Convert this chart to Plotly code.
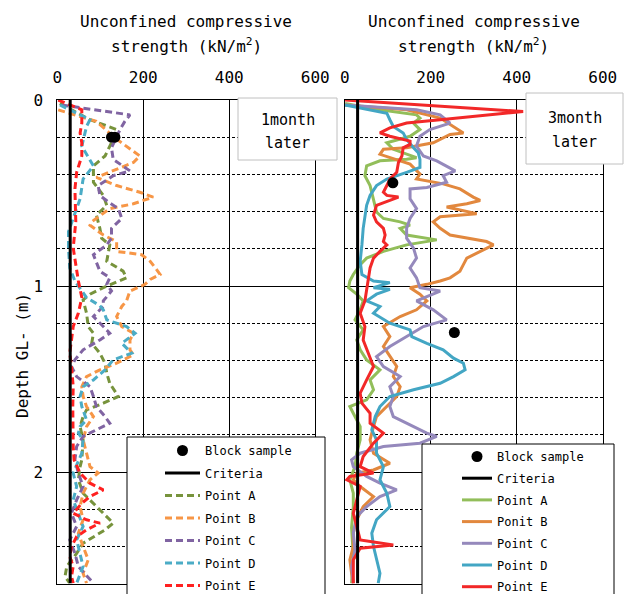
import plotly.graph_objects as go

# ---------------- data ----------------
# 1 month later (dashed)
depth_1m_A = [0.018,0.106,0.159,0.230,0.301,0.354,0.442,0.513,0.566,0.619,0.690,0.743,0.779,0.867,0.920,0.956,1.009,1.044,1.075,1.146,1.218,1.254,1.308,1.361,1.415,1.469,1.523,1.594,1.630,1.666,1.702,1.756,1.827,1.935,1.971,2.042,2.114,2.168,2.222,2.275,2.311,2.347,2.383,2.437,2.508,2.562,2.598]
ucs_1m_A = [6,76,138,126,111,84,84,107,115,91,99,103,122,115,153,161,107,76,60,68,72,84,80,99,111,115,122,142,107,68,60,53,60,57,53,49,60,84,107,130,111,84,60,45,22,18,29]

depth_1m_B = [0.053,0.088,0.115,0.204,0.301,0.336,0.372,0.416,0.460,0.496,0.522,0.558,0.584,0.655,0.673,0.726,0.761,0.814,0.832,0.867,0.912,0.938,0.965,0.991,1.027,1.080,1.110,1.164,1.218,1.254,1.290,1.343,1.370,1.415,1.451,1.487,1.541,1.594,1.648,1.702,1.756,1.827,1.899,1.971,2.006,2.042,2.114,2.186,2.257,2.329,2.401,2.472,2.544,2.598]
ucs_1m_B = [2,53,91,134,192,177,138,91,138,192,223,177,122,80,76,107,138,138,196,216,231,239,216,204,169,161,150,138,150,177,169,169,177,138,99,68,57,60,68,84,68,60,68,76,95,76,60,53,60,49,60,72,60,68]

depth_1m_C = [0.027,0.080,0.115,0.159,0.257,0.319,0.381,0.407,0.460,0.513,0.549,0.584,0.637,0.690,0.743,0.779,0.832,0.920,0.956,0.991,1.027,1.080,1.110,1.164,1.218,1.254,1.290,1.343,1.397,1.433,1.487,1.541,1.594,1.648,1.702,1.738,1.773,1.809,1.863,1.935,2.006,2.078,2.150,2.222,2.293,2.365,2.437,2.508,2.598]
ucs_1m_C = [10,169,157,146,126,130,169,130,95,99,119,142,150,126,126,115,84,99,122,115,126,107,107,84,107,122,99,60,41,33,45,76,84,91,111,122,91,60,45,41,49,60,45,33,45,29,41,49,84]

depth_1m_D = [0.027,0.106,0.142,0.248,0.354,0.425,0.531,0.637,0.708,0.796,0.903,0.973,1.062,1.106,1.128,1.182,1.218,1.254,1.308,1.361,1.397,1.451,1.505,1.541,1.594,1.648,1.720,1.756,1.791,1.827,1.899,2.006,2.078,2.150,2.222,2.293,2.365,2.437,2.508,2.598]
ucs_1m_D = [6,76,68,57,84,60,53,37,26,26,29,41,68,99,107,115,161,181,150,173,130,111,84,60,53,57,68,53,49,60,57,37,45,37,49,60,45,53,60,45]

depth_1m_E = [0.0,0.053,0.124,0.177,0.230,0.301,0.389,0.478,0.655,0.796,0.973,1.062,1.146,1.218,1.290,1.361,1.433,1.541,1.648,1.756,1.863,1.935,2.006,2.060,2.096,2.132,2.168,2.222,2.257,2.275,2.311,2.347,2.401,2.455,2.508,2.562,2.598]
ucs_1m_E = [2,57,57,53,57,57,45,41,43,37,49,57,49,37,33,29,33,37,36,36,37,39,53,76,107,76,57,37,68,99,68,45,33,29,37,33,37]

block_1m_depth = [0.2, 0.2]
block_1m_ucs = [126, 134]

# 3 months later (solid)
depth_3m_A = [0.018,0.053,0.080,0.097,0.124,0.159,0.195,0.230,0.265,0.310,0.319,0.327,0.354,0.407,0.460,0.531,0.602,0.637,0.655,0.673,0.690,0.726,0.743,0.752,0.779,0.814,0.850,0.885,0.938,0.973,1.009,1.044,1.080,1.128,1.182,1.236,1.290,1.343,1.397,1.451,1.505,1.558,1.612,1.648,1.684,1.756,1.827,1.899,1.971,2.042,2.114,2.186,2.300,2.450,2.598]
ucs_3m_A = [1,82,167,175,160,175,152,98,113,167,144,82,51,47,59,67,74,90,129,152,129,144,191,214,144,90,51,36,20,12,9,28,43,36,24,43,28,36,51,82,59,67,51,12,20,36,36,28,24,12,20,20,16,20,16]

depth_3m_B = [0.027,0.053,0.097,0.142,0.177,0.185,0.230,0.257,0.265,0.292,0.310,0.345,0.398,0.425,0.451,0.478,0.522,0.540,0.558,0.575,0.611,0.628,0.655,0.690,0.726,0.761,0.779,0.814,0.850,0.885,0.920,0.956,0.973,0.991,1.009,1.044,1.080,1.128,1.164,1.218,1.272,1.325,1.379,1.433,1.487,1.541,1.594,1.648,1.702,1.756,1.827,1.899,1.953,1.989,2.006,2.042,2.078,2.132,2.186,2.257,2.329,2.401,2.472,2.544,2.598]
ucs_3m_B = [1,144,222,253,276,245,206,144,90,82,105,152,175,167,229,268,299,315,284,237,307,222,206,222,245,330,346,315,284,276,268,245,222,191,152,175,191,167,129,90,105,90,105,121,113,129,121,98,74,67,59,67,105,67,28,20,36,67,43,28,20,20,12,16,20]

depth_3m_C = [0.027,0.053,0.080,0.124,0.159,0.195,0.248,0.301,0.327,0.354,0.381,0.407,0.442,0.470,0.478,0.531,0.584,0.637,0.690,0.743,0.796,0.850,0.903,0.956,1.009,1.027,1.080,1.128,1.182,1.218,1.272,1.325,1.379,1.433,1.487,1.541,1.594,1.648,1.702,1.738,1.791,1.809,1.845,1.863,1.899,1.935,1.971,2.024,2.060,2.096,2.132,2.186,2.240,2.329,2.419,2.508,2.598]
ucs_3m_C = [1,167,222,245,198,175,167,183,214,237,257,229,237,191,152,152,167,152,144,144,160,167,152,167,175,222,167,206,237,183,144,105,74,90,129,105,113,105,113,144,191,214,175,90,36,16,20,51,82,121,82,51,28,20,24,16,20]

depth_3m_D = [0.027,0.071,0.106,0.142,0.177,0.212,0.257,0.283,0.319,0.363,0.389,0.425,0.460,0.513,0.566,0.619,0.690,0.779,0.867,0.938,0.973,0.982,1.009,1.018,1.044,1.080,1.110,1.146,1.200,1.236,1.272,1.308,1.343,1.388,1.415,1.451,1.487,1.523,1.558,1.594,1.648,1.702,1.773,1.827,1.899,1.971,2.042,2.114,2.186,2.257,2.329,2.401,2.472,2.544,2.598]
ucs_3m_D = [1,98,105,113,136,144,160,171,175,175,144,98,74,59,51,47,43,40,36,40,67,105,67,105,74,51,82,67,105,152,156,191,229,253,276,280,253,222,160,105,82,71,63,74,74,90,82,98,105,74,63,67,74,82,78]

depth_3m_E = [0.0,0.062,0.106,0.124,0.150,0.177,0.195,0.221,0.239,0.257,0.301,0.336,0.389,0.425,0.460,0.496,0.513,0.522,0.540,0.566,0.619,0.655,0.690,0.726,0.761,0.779,0.814,0.850,0.903,0.956,1.009,1.080,1.146,1.218,1.290,1.361,1.433,1.505,1.576,1.630,1.684,1.738,1.791,1.845,1.917,1.971,2.006,2.024,2.042,2.078,2.150,2.222,2.293,2.365,2.392,2.410,2.472,2.544,2.600]
ucs_3m_E = [1,415,222,144,105,82,105,152,152,136,133,125,121,105,98,90,98,125,105,74,67,74,90,94,90,98,82,67,59,55,51,47,36,47,43,55,67,51,36,40,59,59,90,67,43,36,67,12,5,36,28,20,28,36,113,36,20,20,20]

block_3m_depth = [0.445, 1.25]
block_3m_ucs = [112, 255]

criteria_ucs = [30, 30]
criteria_depth = [0.0, 2.6]

names_1m = ["Point A", "Point B", "Point C", "Point D", "Point E"]
names_3m = ["Point A", "Ponit B", "Point C", "Point D", "Point E"]
colors_1m = ["#77933C", "#F79646", "#8064A2", "#4BACC6", "#FF2020"]
colors_3m = ["#92BE5A", "#E2883E", "#9589BC", "#43A6C4", "#F22828"]

x_ticks = [0, 200, 400, 600]
y_ticks = [0, 1, 2]

# ---------------- figure ----------------
W, H = 629, 594
FONT = "DejaVu Sans Mono"

def px(x):
    return x / W

def py(y):
    return 1 - y / H

fig = go.Figure()

series_1m = [(depth_1m_A, ucs_1m_A), (depth_1m_B, ucs_1m_B), (depth_1m_C, ucs_1m_C),
             (depth_1m_D, ucs_1m_D), (depth_1m_E, ucs_1m_E)]
series_3m = [(depth_3m_A, ucs_3m_A), (depth_3m_B, ucs_3m_B), (depth_3m_C, ucs_3m_C),
             (depth_3m_D, ucs_3m_D), (depth_3m_E, ucs_3m_E)]

for i, ((d, v), nm, c) in enumerate(zip(series_1m, names_1m, colors_1m)):
    fig.add_trace(go.Scatter(x=v, y=d, mode="lines", name=nm, legend="legend",
                             legendgroup="l1_" + nm, legendrank=3 + i,
                             line=dict(color=c, width=3, dash="7px,4px"),
                             xaxis="x", yaxis="y"))
fig.add_trace(go.Scatter(x=criteria_ucs, y=criteria_depth, mode="lines", name="Criteria",
                         legend="legend", legendgroup="l1_crit", legendrank=2,
                         line=dict(color="black", width=3), xaxis="x", yaxis="y"))
fig.add_trace(go.Scatter(x=block_1m_ucs, y=block_1m_depth, mode="markers", name="Block sample",
                         legend="legend", legendgroup="l1_block", legendrank=1,
                         marker=dict(color="black", size=11), xaxis="x", yaxis="y"))

for i, ((d, v), nm, c) in enumerate(zip(series_3m, names_3m, colors_3m)):
    fig.add_trace(go.Scatter(x=v, y=d, mode="lines", name=nm, legend="legend2",
                             legendgroup="l2_" + nm, legendrank=3 + i,
                             line=dict(color=c, width=3),
                             xaxis="x2", yaxis="y2"))
fig.add_trace(go.Scatter(x=criteria_ucs, y=criteria_depth, mode="lines", name="Criteria",
                         legend="legend2", legendgroup="l2_crit", legendrank=2,
                         line=dict(color="black", width=3), xaxis="x2", yaxis="y2"))
fig.add_trace(go.Scatter(x=block_3m_ucs, y=block_3m_depth, mode="markers", name="Block sample",
                         legend="legend2", legendgroup="l2_block", legendrank=1,
                         marker=dict(color="black", size=11), xaxis="x2", yaxis="y2"))

xax = dict(range=[0, 600], side="top", tickvals=x_ticks, showgrid=True, gridcolor="black",
           gridwidth=1, showline=True, mirror=True, linecolor="black", linewidth=1,
           ticks="", zeroline=False, ticklabelstandoff=10,
           tickfont=dict(family=FONT, size=16, color="black"))
yax = dict(range=[2.6, 0], tickvals=y_ticks, showgrid=True, gridcolor="black", gridwidth=1,
           showline=True, mirror=True, linecolor="black", linewidth=1, ticks="",
           zeroline=False, ticklabelstandoff=10,
           tickfont=dict(family=FONT, size=16, color="black"),
           minor=dict(dtick=0.2, tick0=0, showgrid=True, gridcolor="black", gridwidth=1,
                      griddash="3px,2px"))

ydom = [py(583.6), py(100)]
fig.update_layout(
    width=W, height=H, margin=dict(l=0, r=0, t=0, b=0, autoexpand=False),
    paper_bgcolor="white", plot_bgcolor="white",
    font=dict(family=FONT, color="black"),
    xaxis=dict(xax, domain=[px(57.3), px(315.3)], anchor="y"),
    yaxis=dict(yax, domain=ydom, anchor="x"),
    xaxis2=dict(xax, domain=[px(344.7), px(602.7)], anchor="y2"),
    yaxis2=dict(yax, domain=ydom, anchor="x2", showticklabels=False),
    showlegend=True,
    legend=dict(x=px(160), y=py(436), xanchor="left", yanchor="top",
                bgcolor="rgba(0,0,0,0)", borderwidth=0, itemwidth=35,
                traceorder="grouped", tracegroupgap=3.5,
                font=dict(family=FONT, size=12, color="black")),
    legend2=dict(x=px(457), y=py(442), xanchor="left", yanchor="top",
                 bgcolor="rgba(0,0,0,0)", borderwidth=0, itemwidth=30,
                 traceorder="grouped", tracegroupgap=2.7,
                 font=dict(family=FONT, size=12, color="black")),
)

shapes = [
    # legend boxes
    dict(type="rect", xref="paper", yref="paper", x0=px(127), x1=px(325), y0=py(605), y1=py(437),
         fillcolor="white", line=dict(color="black", width=1), layer="above"),
    dict(type="rect", xref="paper", yref="paper", x0=px(422), x1=px(614), y0=py(605), y1=py(444),
         fillcolor="white", line=dict(color="black", width=1), layer="above"),
    # label boxes
    dict(type="rect", xref="paper", yref="paper", x0=px(238), x1=px(337), y0=py(160), y1=py(98),
         fillcolor="white", line=dict(color="#C0C0C0", width=1), layer="above"),
    dict(type="rect", xref="paper", yref="paper", x0=px(526), x1=px(623), y0=py(164), y1=py(93),
         fillcolor="white", line=dict(color="#C0C0C0", width=1), layer="above"),
]
fig.update_layout(shapes=shapes)

def ann(text, x, y, size=16, angle=0):
    return dict(text=text, x=px(x), y=py(y), xref="paper", yref="paper", showarrow=False,
                xanchor="center", yanchor="middle", textangle=angle,
                font=dict(family=FONT, size=size, color="black"))

annotations = [
    ann("Unconfined compressive", 186.3, 22),
    ann("strength (kN/m<sup>2</sup>)", 186.3, 46),
    ann("Unconfined compressive", 473.7, 22),
    ann("strength (kN/m<sup>2</sup>)", 473.7, 46),
    ann("1month", 287.5, 120, size=15),
    ann("later", 287.5, 143, size=15),
    ann("3month", 574.5, 118, size=15),
    ann("later", 574.5, 142, size=15),
    ann("Depth GL- (m)", 22, 356, size=16, angle=-90),
]
fig.update_layout(annotations=annotations)

fig.write_html("out.html")
